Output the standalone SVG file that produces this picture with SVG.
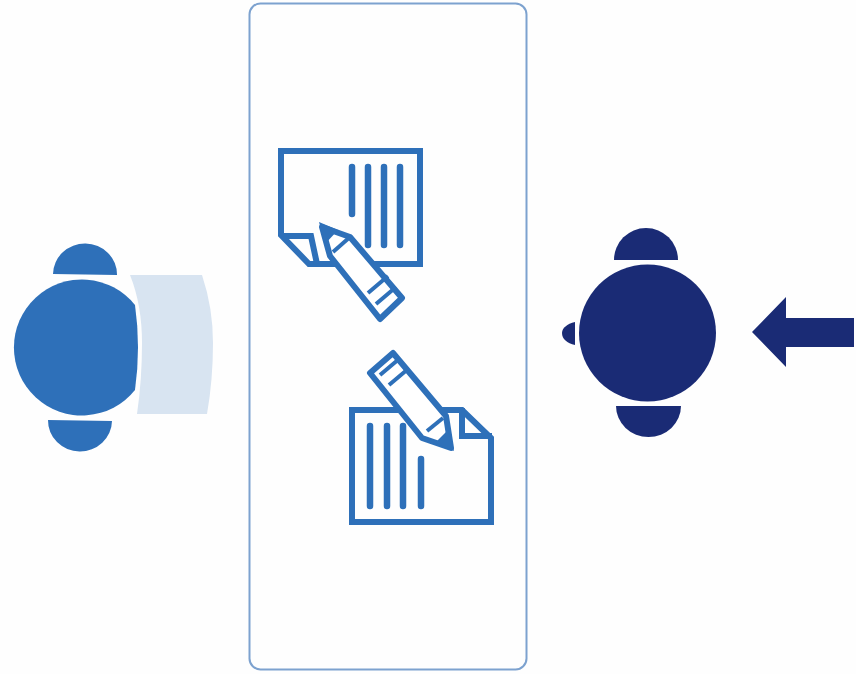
<svg xmlns="http://www.w3.org/2000/svg" width="856" height="674" viewBox="0 0 856 674">
<style>
.mid{fill:#2e70b9}.dark{fill:#1a2b75}
.ink{fill:none;stroke:#2e70b9;stroke-width:6;stroke-linejoin:miter}
.ink2{fill:#fff;stroke:#2e70b9;stroke-width:6;stroke-linejoin:round}
.bar{fill:none;stroke:#2e70b9;stroke-width:6.500;stroke-linecap:round}
.thin{fill:none;stroke:#2e70b9;stroke-width:4}
</style>
<rect width="856" height="674" fill="#fefefe"/>
<g id="panel"><rect x="249.500" y="3.500" width="277" height="666" rx="11" fill="#fefefe" stroke="#7da2cf" stroke-width="2"/></g>
<g id="listener">
<path d="M130 275H202Q213 308 213 343Q213 380 207 414H137Q142 380 142 343Q142 305 130 275Z" fill="#d8e4f1"/>
<path class="mid" d="M53 274A32 31 0 0 1 117 275Z"/>
<path class="mid" d="M48 420L112 421A32 31 0 0 1 48 420Z"/>
<path class="mid" d="M135 305A68 68 0 1 0 135 390Q141 347 135 305Z"/>
</g>
<g id="document-top">
<path class="ink" d="M281 235V151H420V264H309L281 235Z"/>
<path class="ink" d="M283 236H311L317 264"/>
<path class="bar" d="M352 167V214M368 167V245M384 167V245M400 167V245"/>
<path class="ink2" d="M322 227L350 237L402 298L380 319L330 256Z"/>
<path class="mid" d="M319 222L338 230L325 244Z"/>
<path class="thin" d="M333 252L350 237"/>
<path class="thin" d="M368 293L388 276M376 304L396 287"/>
</g>
<g id="document-bottom">
<path class="ink" d="M352 410H462L491 438V522H352Z"/>
<path class="ink" d="M462 408V436H492"/>
<path class="bar" d="M370 426V506M387 426V506M403 426V506M421 459V506"/>
<path class="ink2" d="M451 448L422 438L370 373L393 353L446 416Z"/>
<path class="mid" d="M454 451L435 443L448 430Z"/>
<path class="thin" d="M427 431L443 418"/>
<path class="thin" d="M380 375L399 359M389 385L408 369"/>
</g>
<g id="speaker">
<path class="dark" d="M614 260A32 32 0 0 1 678 260Z"/>
<path class="dark" d="M616 406H681A32.500 31 0 0 1 616 406Z"/>
<circle class="dark" cx="647.500" cy="333" r="68.500"/>
<path class="dark" d="M575 322V345C567 343 562 339 562 333C562 328 567 324 575 322Z"/>
</g>
<g id="connectors">
<path class="dark" d="M752 332L786 297V318H854V347H786V367Z"/>
</g>
</svg>
